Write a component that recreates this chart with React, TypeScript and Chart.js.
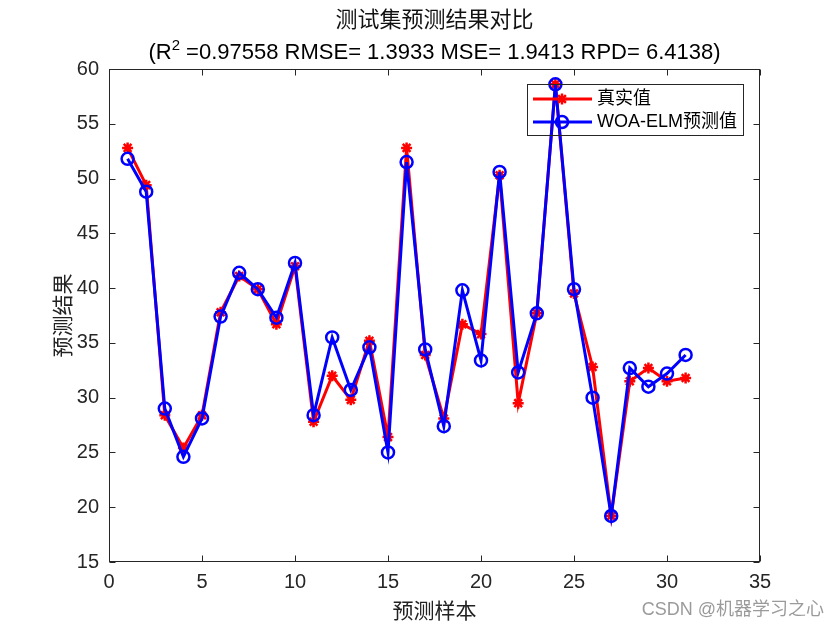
import React, { useEffect, useRef } from "react";
import { Chart, registerables } from "chart.js";

Chart.register(...registerables);

const sampleIndex = [1, 2, 3, 4, 5, 6, 7, 8, 9, 10, 11, 12, 13, 14, 15, 16, 17, 18, 19, 20, 21, 22, 23, 24, 25, 26, 27, 28, 29, 30, 31];
const realValues = [52.8, 49.4, 28.4, 25.4, 28.4, 37.8, 41.1, 39.9, 36.7, 42.0, 27.8, 32.0, 29.8, 35.2, 26.4, 52.8, 33.9, 28.1, 36.7, 35.8, 50.3, 29.5, 37.7, 58.6, 39.5, 32.8, 19.2, 31.5, 32.7, 31.5, 31.8];
const predValues = [51.8, 48.8, 29.0, 24.6, 28.1, 37.4, 41.4, 39.9, 37.3, 42.3, 28.4, 35.5, 30.7, 34.6, 25.0, 51.5, 34.4, 27.4, 39.8, 33.4, 50.6, 32.3, 37.7, 58.6, 39.9, 30.0, 19.2, 32.7, 31.0, 32.2, 33.9];

const xMin = 0, xMax = 35, xStep = 5;
const yMin = 15, yMax = 60, yStep = 5;

const titleLine1 = "测试集预测结果对比";
const titleLine2Pre = "(R";
const titleLine2Sup = "2";
const titleLine2Post = " =0.97558 RMSE= 1.3933 MSE= 1.9413 RPD= 6.4138)";
const legendLabels = ["真实值", "WOA-ELM预测值"];
const xAxisTitle = "预测样本";
const yAxisTitle = "预测结果";
const watermark = "CSDN @机器学习之心";

const FONT = "'Liberation Sans', Arial, 'Noto Sans CJK SC', sans-serif";
const RED = "rgb(255,0,0)";
const BLUE = "rgb(0,0,255)";
const AXIS = "#262626";

function drawStar(ctx: CanvasRenderingContext2D, x: number, y: number, r: number) {
  ctx.beginPath();
  for (let k = 0; k < 4; k++) {
    const a = (k * Math.PI) / 4;
    ctx.moveTo(x - r * Math.cos(a), y - r * Math.sin(a));
    ctx.lineTo(x + r * Math.cos(a), y + r * Math.sin(a));
  }
  ctx.stroke();
}

const decorPlugin = {
  id: "matlabDecor",
  afterDraw(chart: any) {
    const { ctx, chartArea: ca, scales } = chart;
    ctx.save();
    ctx.strokeStyle = AXIS;
    ctx.lineWidth = 1;
    const L = Math.round(ca.left) + 0.5, R = Math.round(ca.right) - 0.5;
    const T = Math.round(ca.top) + 0.5, B = Math.round(ca.bottom) - 0.5;
    ctx.strokeRect(L, T, R - L, B - T);
    const tl = 6;
    ctx.beginPath();
    scales.x.ticks.forEach((t: any) => {
      const px = Math.round(scales.x.getPixelForValue(t.value)) + 0.5;
      ctx.moveTo(px, B); ctx.lineTo(px, B - tl);
      ctx.moveTo(px, T); ctx.lineTo(px, T + tl);
    });
    scales.y.ticks.forEach((t: any) => {
      const py = Math.round(scales.y.getPixelForValue(t.value)) + 0.5;
      ctx.moveTo(L, py); ctx.lineTo(L + tl, py);
      ctx.moveTo(R, py); ctx.lineTo(R - tl, py);
    });
    ctx.stroke();

    const cx = (ca.left + ca.right) / 2;
    ctx.fillStyle = "#111";
    ctx.textAlign = "center";
    ctx.textBaseline = "middle";
    ctx.font = `22px ${FONT}`;
    ctx.fillText(titleLine1, cx, 21);

    ctx.textAlign = "left";
    ctx.textBaseline = "alphabetic";
    const mainFont = `22px ${FONT}`;
    const supFont = `15px ${FONT}`;
    ctx.font = mainFont;
    const wa = ctx.measureText(titleLine2Pre).width;
    const wb = ctx.measureText(titleLine2Post).width;
    ctx.font = supFont;
    const ws = ctx.measureText(titleLine2Sup).width;
    let sx = cx - (wa + ws + wb) / 2;
    const by = 59;
    ctx.fillStyle = "#000";
    ctx.font = mainFont;
    ctx.fillText(titleLine2Pre, sx, by);
    sx += wa;
    ctx.font = supFont;
    ctx.fillText(titleLine2Sup, sx, by - 9);
    sx += ws;
    ctx.font = mainFont;
    ctx.fillText(titleLine2Post, sx, by);

    const lx = 527, ly = 84, lw = 216, lh = 51;
    ctx.strokeStyle = AXIS;
    ctx.lineWidth = 1;
    ctx.strokeRect(lx + 0.5, ly + 0.5, lw, lh);
    const rows = [99, 122];
    const colors = [RED, BLUE];
    rows.forEach((ry, i) => {
      ctx.strokeStyle = colors[i];
      ctx.lineWidth = 3;
      ctx.beginPath();
      ctx.moveTo(533, ry); ctx.lineTo(592, ry);
      ctx.stroke();
      ctx.lineWidth = 2.5;
      if (i === 0) {
        drawStar(ctx, 562, ry, 5.5);
      } else {
        ctx.beginPath();
        ctx.arc(562, ry, 6, 0, Math.PI * 2);
        ctx.stroke();
      }
      ctx.fillStyle = "#000";
      ctx.font = `18px ${FONT}`;
      ctx.textAlign = "left";
      ctx.textBaseline = "middle";
      ctx.fillText(legendLabels[i], 597, ry);
    });

    ctx.fillStyle = "rgba(120,120,120,0.75)";
    ctx.font = `18px ${FONT}`;
    ctx.textAlign = "right";
    ctx.textBaseline = "middle";
    ctx.fillText(watermark, 824, 610);
    ctx.restore();
  },
};

export default function App() {
  const ref = useRef<HTMLCanvasElement | null>(null);
  useEffect(() => {
    if (!ref.current) return;
    const chart = new Chart(ref.current, {
      type: "line",
      data: {
        datasets: [
          {
            label: legendLabels[0],
            data: sampleIndex.map((x, i) => ({ x, y: realValues[i] })),
            borderColor: RED,
            backgroundColor: RED,
            borderWidth: 3,
            pointStyle: "star",
            pointRadius: 5.5,
            pointBorderWidth: 2.5,
            pointBorderColor: RED,
            tension: 0,
            order: 2,
          },
          {
            label: legendLabels[1],
            data: sampleIndex.map((x, i) => ({ x, y: predValues[i] })),
            borderColor: BLUE,
            backgroundColor: "rgba(0,0,0,0)",
            borderWidth: 3,
            pointStyle: "circle",
            pointRadius: 6,
            pointBorderWidth: 2.5,
            pointBorderColor: BLUE,
            pointBackgroundColor: "rgba(0,0,0,0)",
            tension: 0,
            order: 1,
          },
        ],
      },
      options: {
        animation: false,
        responsive: false,
        devicePixelRatio: 1,
        layout: { padding: { top: 69, right: 80, left: 0, bottom: 0 } },
        plugins: { legend: { display: false }, title: { display: false }, tooltip: { enabled: false } },
        scales: {
          x: {
            type: "linear",
            min: xMin,
            max: xMax,
            ticks: { stepSize: xStep, color: AXIS, font: { size: 20, family: FONT }, padding: 8, maxRotation: 0 },
            grid: { display: false, drawTicks: false },
            border: { display: false },
            title: { display: true, text: xAxisTitle, color: "#222", font: { size: 21, family: FONT }, padding: { top: 0, bottom: 5 } },
            afterFit: (s: any) => { s.height = 68; },
          },
          y: {
            type: "linear",
            min: yMin,
            max: yMax,
            ticks: { stepSize: yStep, color: AXIS, font: { size: 20, family: FONT }, padding: 10 },
            grid: { display: false, drawTicks: false },
            border: { display: false },
            title: { display: true, text: yAxisTitle, color: "#222", font: { size: 21, family: FONT }, padding: { top: 52, bottom: 0 } },
            afterFit: (s: any) => { s.width = 109; },
          },
        },
      },
      plugins: [decorPlugin],
    } as any);
    return () => chart.destroy();
  }, []);
  return (
    <div style={{ position: "absolute", left: 0, top: 0, width: 840, height: 630, background: "#fff" }}>
      <canvas ref={ref} width={840} height={630} />
    </div>
  );
}
